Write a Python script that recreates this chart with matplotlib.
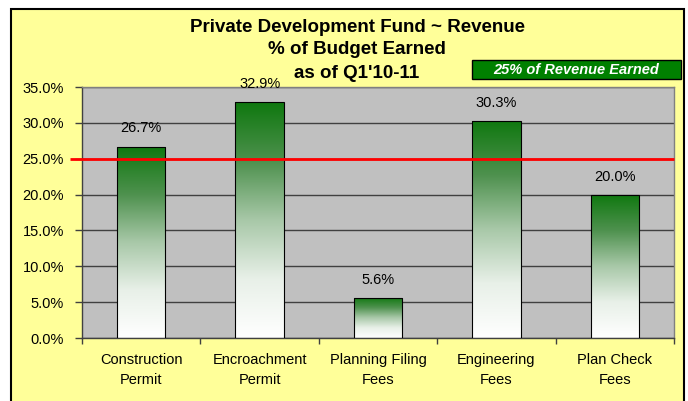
import numpy as np
import matplotlib
matplotlib.use("Agg")
import matplotlib.pyplot as plt
from matplotlib.patches import Rectangle
from matplotlib.colors import LinearSegmentedColormap
from matplotlib.ticker import FuncFormatter, FixedLocator
import matplotlib.transforms as mtransforms

categories = ["Construction\nPermit", "Encroachment\nPermit", "Planning Filing\nFees",
              "Engineering\nFees", "Plan Check\nFees"]
values = [26.7, 32.9, 5.6, 30.3, 20.0]
target = 25.0
yticks = [0, 5, 10, 15, 20, 25, 30, 35]
title_lines = ["Private Development Fund ~ Revenue", "% of Budget Earned", "as of Q1'10-11"]
legend_label = "25% of Revenue Earned"

plt.rcParams['font.family'] = ['Liberation Sans', 'DejaVu Sans']

W, H = 688, 401
fig = plt.figure(figsize=(W / 100, H / 100), dpi=100, facecolor='white')

def fx(px):
    return px / W

def fy(py):
    return 1 - py / H

# outer chart area (yellow with black border)
fig.patches.append(Rectangle((fx(11), fy(403)), fx(684) - fx(11), fy(9) - fy(403),
                             transform=fig.transFigure, facecolor='#FFFF99',
                             edgecolor='black', linewidth=1.5, zorder=-10))

ax = fig.add_axes([fx(82), fy(338), fx(674) - fx(82), fy(87) - fy(338)])
ax.set_facecolor('#C0C0C0')
for s in ax.spines.values():
    s.set_color('#808080')
    s.set_linewidth(1.0)
ax.spines['left'].set_color('#404040')
ax.spines['bottom'].set_color('#404040')

x = np.arange(len(categories))
bars = ax.bar(x, values, width=0.41, facecolor='none', edgecolor='black', linewidth=0.8, zorder=3)

cmap = LinearSegmentedColormap.from_list(
    'g', [(0, 'white'), (0.25, '#e8f0e8'), (0.5, '#a8c8a8'), (0.75, '#4e914e'), (1.0, '#0f780f')])
grad = np.linspace(0, 1, 256).reshape(-1, 1)
for b in bars:
    x0, y0 = b.get_x(), b.get_y()
    w, h = b.get_width(), b.get_height()
    im = ax.imshow(grad, cmap=cmap, aspect='auto', origin='lower',
                   extent=(x0, x0 + w, y0, y0 + h), zorder=2, interpolation='bilinear')
    im.set_clip_path(b)

for xi, v in zip(x, values):
    ax.annotate(f"{v:.1f}%", (xi, v), xytext=(0, 13), textcoords='offset points',
                ha='center', va='center', fontsize=10.5, color='black', zorder=5)

ax.set_ylim(0, 35)
ax.set_xlim(-0.5, len(categories) - 0.5)
ax.set_yticks(yticks)
ax.yaxis.set_major_formatter(FuncFormatter(lambda v, p: f"{v:.1f}%"))
ax.tick_params(axis='y', direction='out', length=5, width=1, color='#404040',
               labelsize=10.5, pad=8)
ax.yaxis.grid(True, color='#404040', linewidth=1.0)
ax.set_axisbelow(True)

ax.xaxis.set_major_locator(FixedLocator(np.arange(-0.5, len(categories), 1.0)))
ax.xaxis.set_minor_locator(FixedLocator(x))
ax.set_xticklabels([], minor=False)
ax.set_xticklabels(categories, minor=True)
ax.tick_params(axis='x', which='major', direction='out', length=4, width=1, color='#404040')
ax.tick_params(axis='x', which='minor', length=0, labelsize=10.5, pad=11)
for lbl in ax.get_xticklabels(minor=True):
    lbl.set_linespacing(1.55)

trans = mtransforms.blended_transform_factory(ax.transAxes, ax.transData)
ax.plot([(70 - 82) / (674 - 82), 1.0], [target, target], transform=trans, color='#FF0000',
        linewidth=2.0, clip_on=False, zorder=4, solid_capstyle='butt')

for i, (t, py) in enumerate(zip(title_lines, [27, 50, 73])):
    fig.text(fx(357), fy(py), t, ha='center', va='center', fontsize=13.5, fontweight='bold')

fig.patches.append(Rectangle((fx(472), fy(79)), fx(681) - fx(472), fy(60) - fy(79),
                             transform=fig.transFigure, facecolor='#008000',
                             edgecolor='black', linewidth=1.0, zorder=1))
fig.text(fx(576.5), fy(69.5), legend_label, ha='center', va='center', fontsize=10.5,
         fontweight='bold', fontstyle='italic', color='white', zorder=2)

fig.savefig('out.png', dpi=100, facecolor='white')
